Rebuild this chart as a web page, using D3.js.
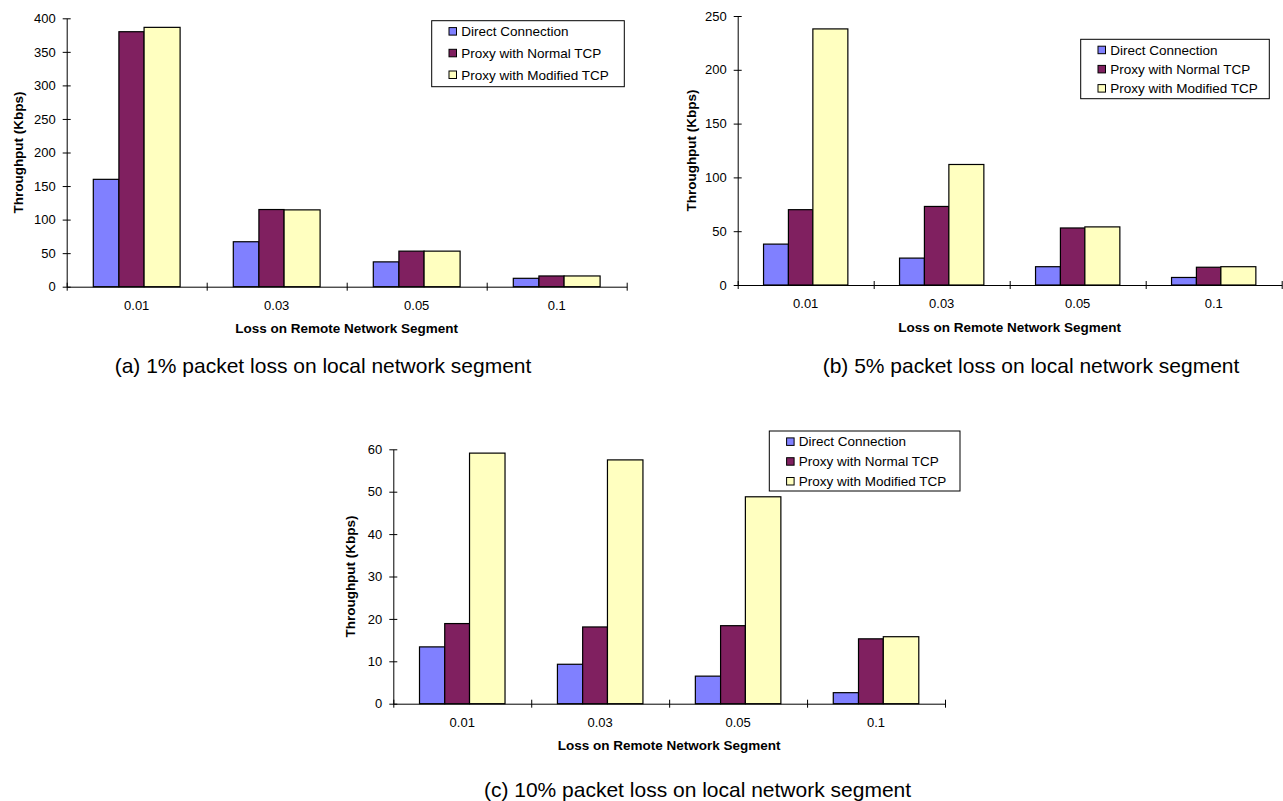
<!DOCTYPE html>
<html>
<head>
<meta charset="utf-8">
<script src="https://cdn.jsdelivr.net/npm/d3@7"></script>
<style>
  body { margin: 0; background: #fff; }
  text { font-family: Arial, "Liberation Sans", sans-serif; fill: #000; }
</style>
</head>
<body>
<svg id="chart" width="1283" height="801"></svg>
<script>
// categories on the x axis and the three series
const categories = ["0.01", "0.03", "0.05", "0.1"];
const seriesNames = ["Direct Connection", "Proxy with Normal TCP", "Proxy with Modified TCP"];
const colors = ["#8080ff", "#802060", "#ffffc0"];

// (a) 1% local loss
const directA = [160, 67, 37, 12.5];
const normalA = [380, 115, 53, 16];
const modifiedA = [386.5, 114.5, 53, 16];
const ticksA = [0, 50, 100, 150, 200, 250, 300, 350, 400];

// (b) 5% local loss
const directB = [38, 25, 17, 7];
const normalB = [70, 73, 53, 16.5];
const modifiedB = [238, 112, 54, 17];
const ticksB = [0, 50, 100, 150, 200, 250];

// (c) 10% local loss
const directC = [13.4, 9.3, 6.5, 2.6];
const normalC = [18.9, 18.1, 18.4, 15.3];
const modifiedC = [59.1, 57.5, 48.8, 15.8];
const ticksC = [0, 10, 20, 30, 40, 50, 60];

const captions = [
  "(a) 1% packet loss on local network segment",
  "(b) 5% packet loss on local network segment",
  "(c) 10% packet loss on local network segment"
];

const panels = [
  { series: [directA, normalA, modifiedA], ticks: ticksA, caption: captions[0],
    x0: 66.7, x1: 626.7, yTop: 18.3, yBot: 286.7, titleDx: -48,
    legend: { x: 431.7, y: 20.7, w: 192.6, h: 66, row: 21.7 }, cap: { x: 323, y: 366 } },
  { series: [directB, normalB, modifiedB], ticks: ticksB, caption: captions[1],
    x0: 737.7, x1: 1281.7, yTop: 16, yBot: 285, titleDx: -46,
    legend: { x: 1080.7, y: 39.3, w: 188.6, h: 59.4, row: 19.2 }, cap: { x: 1031, y: 366 } },
  { series: [directC, normalC, modifiedC], ticks: ticksC, caption: captions[2],
    x0: 393.3, x1: 945, yTop: 449.3, yBot: 703.7, titleDx: -43,
    legend: { x: 769.3, y: 431, w: 190.7, h: 60, row: 19.8 }, cap: { x: 697.5, y: 790 } }
];

// relative widths of the three bars in a group (the last one is wider)
const barWeights = [0.295, 0.29, 0.415];
const groupFrac = 0.62;

const svg = d3.select("#chart");

panels.forEach((p) => {
  const g = svg.append("g");

  const x = d3.scaleBand().domain(categories).range([p.x0, p.x1]);
  const y = d3.scaleLinear()
    .domain([0, d3.max(p.ticks)])
    .range([p.yBot, p.yTop]);

  // bars
  const groupW = x.bandwidth() * groupFrac;
  const offsets = [0];
  barWeights.forEach((w, i) => offsets.push(offsets[i] + w * groupW));

  p.series.forEach((vals, si) => {
    g.selectAll(null)
      .data(vals)
      .enter()
      .append("rect")
      .attr("x", (d, i) => x(categories[i]) + (x.bandwidth() - groupW) / 2 + offsets[si])
      .attr("y", (d) => y(d))
      .attr("width", barWeights[si] * groupW)
      .attr("height", (d) => y(0) - y(d))
      .attr("fill", colors[si])
      .attr("stroke", "#000")
      .attr("stroke-width", 1.2);
  });

  // y axis
  const yAxis = d3.axisLeft(y).tickValues(p.ticks).tickSizeOuter(0).tickSizeInner(4).tickPadding(7);
  const ya = g.append("g").attr("transform", `translate(${p.x0},0)`).call(yAxis);
  ya.selectAll(".tick line").attr("x1", -4).attr("x2", 4).attr("stroke", "#000");
  ya.select(".domain").attr("stroke", "#000");
  ya.selectAll(".tick text").attr("font-size", 13).attr("font-family", "Arial, 'Liberation Sans', sans-serif");

  // x axis: labels at category centres
  const xAxis = d3.axisBottom(x).tickSize(0).tickPadding(14);
  const xa = g.append("g").attr("transform", `translate(0,${p.yBot})`).call(xAxis);
  xa.select(".domain").attr("stroke", "#000");
  xa.selectAll(".tick text").attr("font-size", 13).attr("font-family", "Arial, 'Liberation Sans', sans-serif");

  // x axis: tick marks on category boundaries
  const xb = d3.scaleLinear().domain([0, categories.length]).range([p.x0, p.x1]);
  const xbAxis = d3.axisBottom(xb).tickValues(d3.range(categories.length + 1)).tickFormat("").tickSizeOuter(0).tickSizeInner(4);
  const xba = g.append("g").attr("transform", `translate(0,${p.yBot})`).call(xbAxis);
  xba.select(".domain").remove();
  xba.selectAll(".tick line").attr("y1", -4).attr("y2", 4).attr("stroke", "#000");

  // axis titles
  g.append("text")
    .attr("transform", `translate(${p.x0 + p.titleDx},${(p.yTop + p.yBot) / 2}) rotate(-90)`)
    .attr("text-anchor", "middle")
    .attr("dy", "0.35em")
    .attr("font-size", 13.5)
    .attr("font-weight", "bold")
    .text("Throughput (Kbps)");

  g.append("text")
    .attr("x", (p.x0 + p.x1) / 2)
    .attr("y", p.yBot + 42)
    .attr("dy", "0.35em")
    .attr("text-anchor", "middle")
    .attr("font-size", 13.5)
    .attr("font-weight", "bold")
    .text("Loss on Remote Network Segment");

  // legend
  const L = p.legend;
  const lg = g.append("g").attr("transform", `translate(${L.x},${L.y})`);
  lg.append("rect")
    .attr("width", L.w).attr("height", L.h)
    .attr("fill", "#fff").attr("stroke", "#000").attr("stroke-width", 1);
  seriesNames.forEach((name, i) => {
    const cy = 10.7 + i * L.row;
    lg.append("rect")
      .attr("x", 17.3).attr("y", cy - 3.8)
      .attr("width", 7.5).attr("height", 7.5)
      .attr("fill", colors[i]).attr("stroke", "#000").attr("stroke-width", 1);
    lg.append("text")
      .attr("x", 29.5).attr("y", cy)
      .attr("dy", "0.35em")
      .attr("font-size", 13.5)
      .text(name);
  });

  // caption
  g.append("text")
    .attr("x", p.cap.x).attr("y", p.cap.y)
    .attr("dy", "0.35em")
    .attr("text-anchor", "middle")
    .attr("font-size", 21)
    .text(p.caption);
});
</script>
</body>
</html>
